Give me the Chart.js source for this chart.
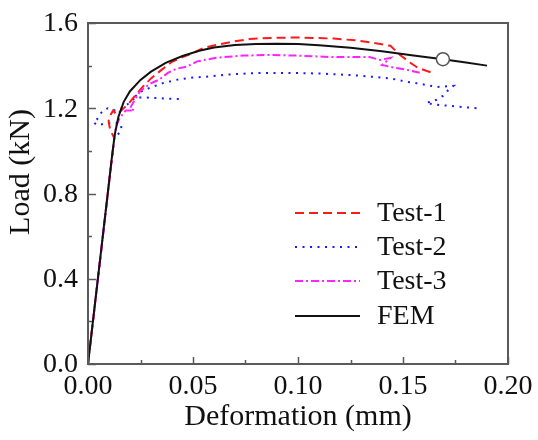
<!DOCTYPE html>
<html>
<head>
<meta charset="utf-8">
<script src="https://cdn.jsdelivr.net/npm/chart.js@4/dist/chart.umd.min.js"></script>
<style>
  body { margin: 0; background: #fff; }
  canvas { display: block; }
</style>
</head>
<body>
<canvas id="grafico" width="538" height="440"></canvas>
<script>
// ticks of both axes
const xTicks = [0, 0.05, 0.10, 0.15, 0.20];
const xTickLabels = ['0.00', '0.05', '0.10', '0.15', '0.20'];
const xMinorTicks = [0.025, 0.075, 0.125, 0.175];
const yTicks = [0.0, 0.4, 0.8, 1.2, 1.6];
const yTickLabels = ['0.0', '0.4', '0.8', '1.2', '1.6'];
const yMinorTicks = [0.2, 0.6, 1.0, 1.4];

// curves: [deformation (mm), load (kN)]
const test1Points = [
  [0, 0], [0.0118, 1.0], [0.0125, 1.06], [0.0105, 1.10], [0.0098, 1.14], [0.0108, 1.17],
  [0.012, 1.19], [0.0135, 1.17], [0.016, 1.19], [0.02, 1.23], [0.0225, 1.26], [0.026, 1.30],
  [0.03, 1.34], [0.035, 1.38], [0.04, 1.418], [0.045, 1.44], [0.049, 1.455], [0.055, 1.483],
  [0.061, 1.497], [0.068, 1.511], [0.077, 1.525], [0.087, 1.53], [0.10, 1.532], [0.117, 1.527],
  [0.128, 1.518], [0.136, 1.507], [0.144, 1.493], [0.1486, 1.45], [0.154, 1.41], [0.157, 1.39],
  [0.164, 1.366]
];
const test2Points = [
  [0, 0], [0.0118, 1.0], [0.0125, 1.06], [0.0155, 1.09], [0.016, 1.12], [0.013, 1.135],
  [0.009, 1.13], [0.0045, 1.12], [0.0025, 1.135], [0.0045, 1.15], [0.0057, 1.17], [0.0071, 1.19],
  [0.0095, 1.20], [0.013, 1.19], [0.016, 1.20], [0.019, 1.22], [0.0225, 1.25], [0.028, 1.25],
  [0.036, 1.246], [0.045, 1.243], [0.045, null],
  [0.0225, 1.255], [0.0248, 1.277], [0.0295, 1.296], [0.0357, 1.318], [0.042, 1.333],
  [0.0486, 1.343], [0.055, 1.347], [0.066, 1.358], [0.080, 1.365], [0.095, 1.366], [0.11, 1.363],
  [0.125, 1.356], [0.136, 1.347], [0.144, 1.34], [0.152, 1.324], [0.158, 1.315], [0.166, 1.30],
  [0.170, 1.302], [0.174, 1.305], [0.171, 1.28], [0.169, 1.258], [0.166, 1.24], [0.161, 1.225],
  [0.165, 1.218], [0.17, 1.213], [0.177, 1.207], [0.185, 1.20]
];
const test3Points = [
  [0, 0], [0.0118, 1.0], [0.0125, 1.06], [0.0135, 1.12], [0.0152, 1.155], [0.018, 1.19],
  [0.022, 1.19], [0.02, 1.20], [0.0214, 1.225], [0.0248, 1.28], [0.0295, 1.315], [0.034, 1.335],
  [0.038, 1.366], [0.042, 1.385], [0.047, 1.395], [0.052, 1.42], [0.061, 1.437], [0.074, 1.447],
  [0.087, 1.45], [0.10, 1.447], [0.117, 1.44], [0.134, 1.44], [0.139, 1.427], [0.144, 1.436],
  [0.140, 1.403], [0.146, 1.39], [0.152, 1.38], [0.158, 1.366]
];
const femPoints = [
  [0, 0], [0.0115, 0.98], [0.0128, 1.08], [0.0145, 1.16], [0.017, 1.23], [0.02, 1.28],
  [0.025, 1.333], [0.03, 1.372], [0.037, 1.413], [0.045, 1.445], [0.053, 1.47], [0.06, 1.485],
  [0.07, 1.497], [0.08, 1.502], [0.09, 1.503], [0.10, 1.501], [0.11, 1.496], [0.125, 1.484],
  [0.14, 1.467], [0.155, 1.448], [0.169, 1.43], [0.18, 1.415], [0.19, 1.40]
];
// failure point marked on the FEM curve
const femMark = [[0.169, 1.43]];

const aXY = (lista) => lista.map(([x, y]) => ({ x: x, y: y }));

const fuente = '"Liberation Serif", "Times New Roman", serif';

// frame, ticks, labels, titles and legend drawn on top of the chart
const ejesPlugin = {
  id: 'ejesPlugin',
  afterDraw(chart) {
    const ctx = chart.ctx;
    const area = chart.chartArea;
    const sx = chart.scales.x;
    const sy = chart.scales.y;
    ctx.save();

    // marco
    ctx.strokeStyle = '#5a5a5a';
    ctx.lineWidth = 2;
    ctx.setLineDash([]);
    ctx.strokeRect(area.left, area.top, area.right - area.left, area.bottom - area.top);

    // ticks hacia dentro
    ctx.lineWidth = 1.5;
    ctx.beginPath();
    xTicks.forEach((v) => {
      const px = Math.round(sx.getPixelForValue(v)) + 0.5;
      ctx.moveTo(px, area.bottom); ctx.lineTo(px, area.bottom - 7);
    });
    xMinorTicks.forEach((v) => {
      const px = Math.round(sx.getPixelForValue(v)) + 0.5;
      ctx.moveTo(px, area.bottom); ctx.lineTo(px, area.bottom - 4);
    });
    yTicks.forEach((v) => {
      const py = Math.round(sy.getPixelForValue(v)) + 0.5;
      ctx.moveTo(area.left, py); ctx.lineTo(area.left + 8, py);
    });
    yMinorTicks.forEach((v) => {
      const py = Math.round(sy.getPixelForValue(v)) + 0.5;
      ctx.moveTo(area.left, py); ctx.lineTo(area.left + 4, py);
    });
    ctx.stroke();

    // etiquetas
    ctx.fillStyle = '#111';
    ctx.font = '28px ' + fuente;
    ctx.textAlign = 'center';
    ctx.textBaseline = 'middle';
    xTicks.forEach((v, i) => {
      ctx.fillText(xTickLabels[i], sx.getPixelForValue(v), area.bottom + 23);
    });
    ctx.textAlign = 'right';
    yTicks.forEach((v, i) => {
      ctx.fillText(yTickLabels[i], area.left - 10, sy.getPixelForValue(v) + 1);
    });

    // títulos de ejes
    ctx.font = '30px ' + fuente;
    ctx.textAlign = 'center';
    ctx.fillText('Deformation (mm)', (area.left + area.right) / 2, area.bottom + 53);
    ctx.save();
    ctx.translate(21, 172);
    ctx.rotate(-Math.PI / 2);
    ctx.fillText('Load (kN)', 0, 0);
    ctx.restore();

    // leyenda
    ctx.font = '28px ' + fuente;
    ctx.textAlign = 'left';
    const filas = [213, 247, 281, 316];
    chart.data.datasets.filter((d) => d.label).forEach((d, i) => {
      const y = filas[i];
      ctx.strokeStyle = d.borderColor;
      ctx.lineWidth = d.borderWidth;
      ctx.setLineDash(d.borderDash || []);
      ctx.beginPath();
      ctx.moveTo(295, y); ctx.lineTo(360, y);
      ctx.stroke();
      ctx.fillText(d.label, 377, y + 1);
    });
    ctx.restore();
  }
};

const lineaBase = { showLine: true, pointRadius: 0, borderWidth: 2, fill: false, tension: 0 };

const config = {
  type: 'scatter',
  data: {
    datasets: [
      { data: aXY(femMark), showLine: false, pointRadius: 6.5, pointBackgroundColor: '#fff',
        pointBorderColor: '#555', pointBorderWidth: 1.5, order: 0 },
      Object.assign({ label: 'Test-1', data: aXY(test1Points), borderColor: '#ff1a1a',
        borderDash: [9, 5], order: 3 }, lineaBase),
      Object.assign({ label: 'Test-2', data: aXY(test2Points), borderColor: '#1a1aff',
        borderDash: [2, 5.5], order: 4 }, lineaBase),
      Object.assign({ label: 'Test-3', data: aXY(test3Points), borderColor: '#ff22ff',
        borderDash: [8, 3, 2, 3], order: 2 }, lineaBase),
      Object.assign({ label: 'FEM', data: aXY(femPoints), borderColor: '#111',
        borderDash: [], order: 1 }, lineaBase)
    ]
  },
  options: {
    responsive: false,
    animation: false,
    devicePixelRatio: 1,
    layout: { padding: { left: 88, right: 30, top: 23, bottom: 76 } },
    scales: {
      x: { type: 'linear', min: 0, max: 0.2, display: false },
      y: { type: 'linear', min: 0, max: 1.6, display: false }
    },
    plugins: {
      legend: { display: false },
      tooltip: { enabled: false }
    }
  },
  plugins: [ejesPlugin]
};

const miGrafico = new Chart(document.getElementById('grafico'), config);
</script>
</body>
</html>
